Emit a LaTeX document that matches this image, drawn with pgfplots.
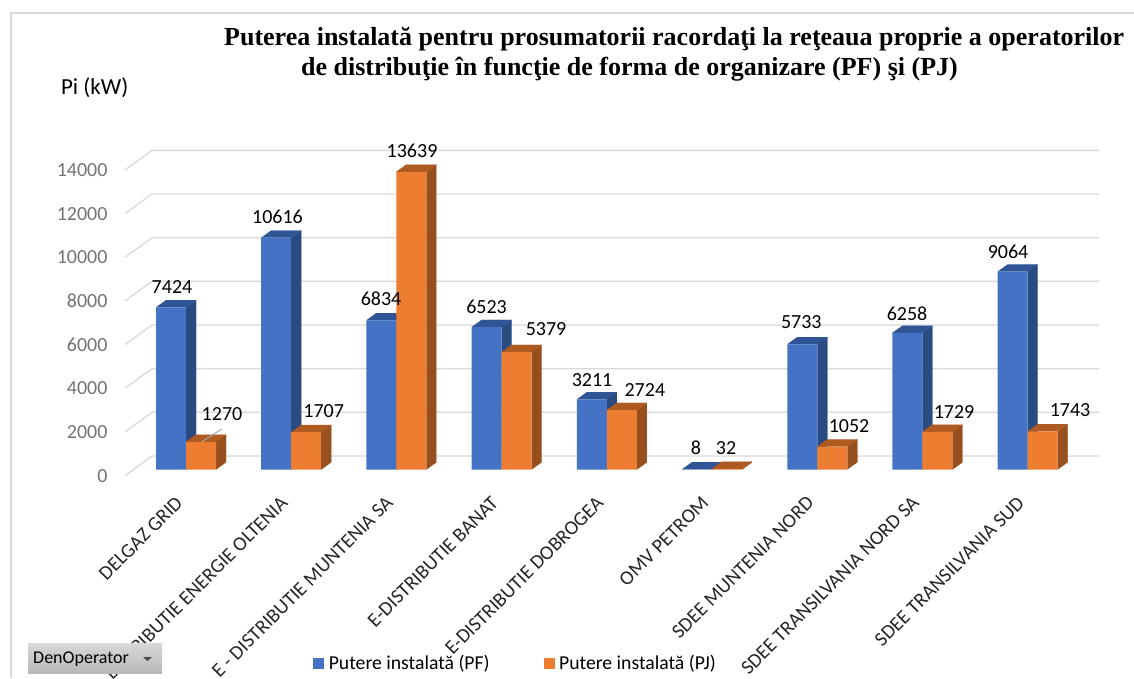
\documentclass[border=0pt]{standalone}
\usepackage{pgfplots}
\usepackage{pgfplotstable}
\usepackage{fontspec}
\pgfplotsset{compat=1.18}
\setmainfont{Carlito}
\newfontfamily\titlefont{Liberation Serif}

\definecolor{pfFront}{HTML}{4472C4}
\definecolor{pfTop}{HTML}{2F5597}
\definecolor{pfSide}{HTML}{2A4A82}
\definecolor{pjFront}{HTML}{ED7D31}
\definecolor{pjTop}{HTML}{AE5A21}
\definecolor{pjSide}{HTML}{97501D}
\definecolor{gridgray}{HTML}{D9D9D9}

% values, and where each value label sits relative to (category, value), in px
\pgfplotstableread{
i pf    pfdx  pfdy pj    pjdx pjdy
0 7424  -14   20.4 1270  36   27.8
1 10616 -13.7 20.8 1707  32.5 20.7
2 6834  -15.4 21.3 13639 15.6 20.8
3 6523  -15.1 20   5379  44.4 23
4 3211  -14.8 19.4 2724  38   20
5 8     -16   21.3 32    14   20.8
6 5733  -16   22   1052  31.8 20.5
7 6258  -15.4 19   1729  31.6 19.8
8 9064  -19.6 19.6 1743  42.4 21.4
}\datatable

\def\hw{0.2852}
\def\ddx{0.095}
\def\ddy{330}

% side and top faces of one bar: left x, right x, value, top colour, side colour
\newcommand\depthfaces[5]{%
  \addplot[fill=#5, draw=#5, line width=0.1pt, forget plot] coordinates {
    (#2,0) (\fpeval{#2+\ddx},\ddy) (\fpeval{#2+\ddx},\fpeval{#3+\ddy}) (#2,#3)};
  \addplot[fill=#4, draw=#4, line width=0.1pt, forget plot] coordinates {
    (#1,#3) (\fpeval{#1+\ddx},\fpeval{#3+\ddy}) (\fpeval{#2+\ddx},\fpeval{#3+\ddy}) (#2,#3)};
}

\begin{document}
\begin{tikzpicture}
\path[use as bounding box] (0pt,0pt) rectangle (1134pt,678pt);
\clip (0pt,0pt) rectangle (1134pt,678pt);
\fill[white] (0pt,0pt) rectangle (1134pt,678pt);
% chart frame
\draw[gridgray, line width=2pt] (11pt,0pt) -- (11pt,665pt) -- (1134pt,665pt);
\begin{axis}[
    scale only axis,
    width=1134pt, height=678pt,
    xmin=-1.768, xmax=9.011,
    ymin=-9551, ymax=21507,
    axis line style={draw=none},
    tick style={draw=none},
    xtick={0,...,8},
    xticklabels={DELGAZ GRID, DISTRIBUTIE ENERGIE OLTENIA, E - DISTRIBUTIE MUNTENIA SA,
      E-DISTRIBUTIE BANAT, E-DISTRIBUTIE DOBROGEA, OMV PETROM, SDEE MUNTENIA NORD,
      SDEE TRANSILVANIA NORD SA, SDEE TRANSILVANIA SUD},
    x tick label style={rotate=45, anchor=north east, xshift=124.7pt, yshift=141pt,
      font=\fontsize{20}{22}\selectfont, text=black!85},
    ytick={-280,1720,3720,5720,7720,9720,11720,13720},
    yticklabels={0,2000,4000,6000,8000,10000,12000,14000},
    y tick label style={anchor=east, xshift=111pt, font=\fontsize{20}{22}\selectfont, text=black!55},
    title={\hspace*{0pt}Puterea instalată pentru prosumatorii racordaţi la reţeaua proprie a operatorilor\\
      \hspace*{77pt}de distribuţie în funcţie de forma de organizare (PF) şi (PJ)},
    title style={at={(axis description cs:0.1975,0.952)}, anchor=north west, align=left,
      inner sep=0pt, font=\titlefont\bfseries\fontsize{26}{30}\selectfont},
    ylabel={Pi (kW)},
    ylabel style={at={(axis description cs:0.0835,0.87)}, rotate=-90, anchor=center,
      font=\fontsize{23}{25}\selectfont},
    legend style={at={(axis description cs:0.2735,0.0225)}, anchor=west, legend columns=2,
      draw=none, fill=none, font=\fontsize{19.7}{22}\selectfont,
      /tikz/every odd column/.append style={column sep=3pt},
      /tikz/every even column/.append style={column sep=52pt}},
    legend cell align=left,
    /pgf/number format/assume math mode=true,
]
% legend only
\addlegendimage{legend image code/.code={\fill[pfFront] (0pt,-5pt) rectangle (10pt,5pt);}}
\addlegendentry{Putere instalată (PF)}
\addlegendimage{legend image code/.code={\fill[pjFront] (0pt,-5pt) rectangle (10pt,5pt);}}
\addlegendentry{Putere instalată (PJ)}

% gridlines: floor diagonal at the left, then along the back wall
\pgfplotsinvokeforeach{0,2000,4000,6000,8000,10000,12000,14000}{
  \addplot[gridgray, line width=1.3pt, forget plot] coordinates {
    (-0.58,\fpeval{#1-280}) (-0.323,\fpeval{#1+618}) (8.68,\fpeval{#1+618})};
}

% PF bars
\pgfplotsforeachungrouped \r in {0,...,8}{
  \pgfplotstablegetelem{\r}{pf}\of\datatable
  \let\v\pgfplotsretval
  \depthfaces{\fpeval{\r-\hw}}{\r}{\v}{pfTop}{pfSide}
}
\addplot[ybar, bar width=\hw, bar shift=-0.1426, fill=pfFront, draw=none, forget plot]
  table[x=i, y=pf] {\datatable};

% PJ bars
\pgfplotsforeachungrouped \r in {0,...,8}{
  \pgfplotstablegetelem{\r}{pj}\of\datatable
  \let\v\pgfplotsretval
  \depthfaces{\r}{\fpeval{\r+\hw}}{\v}{pjTop}{pjSide}
}
\addplot[ybar, bar width=\hw, bar shift=0.1426, fill=pjFront, draw=none, forget plot]
  table[x=i, y=pj] {\datatable};

% leader line of the 1270 label
\addplot[black!35, line width=1pt, forget plot] coordinates {(0.152,1273) (0.34,1855)};

% value labels
\addplot[draw=none, mark=none, forget plot, point meta=explicit symbolic,
    nodes near coords, nodes near coords style={anchor=center, inner sep=0pt, xshift=\ldx pt, yshift=\ldy pt,
      font=\fontsize{20}{22}\selectfont, text=black},
    visualization depends on={\thisrow{pfdx} \as \ldx},
    visualization depends on={\thisrow{pfdy} \as \ldy}]
  table[x=i, y=pf, meta=pf] {\datatable};
\addplot[draw=none, mark=none, forget plot, point meta=explicit symbolic,
    nodes near coords, nodes near coords style={anchor=center, inner sep=0pt, xshift=\ldx pt, yshift=\ldy pt,
      font=\fontsize{20}{22}\selectfont, text=black},
    visualization depends on={\thisrow{pjdx} \as \ldx},
    visualization depends on={\thisrow{pjdy} \as \ldy}]
  table[x=i, y=pj, meta=pj] {\datatable};
\end{axis}
% slicer button over the bottom left corner
\shade[top color=black!15, bottom color=black!28] (28pt,5pt) rectangle (162pt,35pt);
\node[anchor=west, inner sep=0pt, font=\fontsize{18}{20}\selectfont] at (33pt,19pt) {DenOperator};
\fill[black!70] (143pt,21pt) -- (152pt,21pt) -- (147.5pt,17pt) -- cycle;
\end{tikzpicture}
\end{document}
